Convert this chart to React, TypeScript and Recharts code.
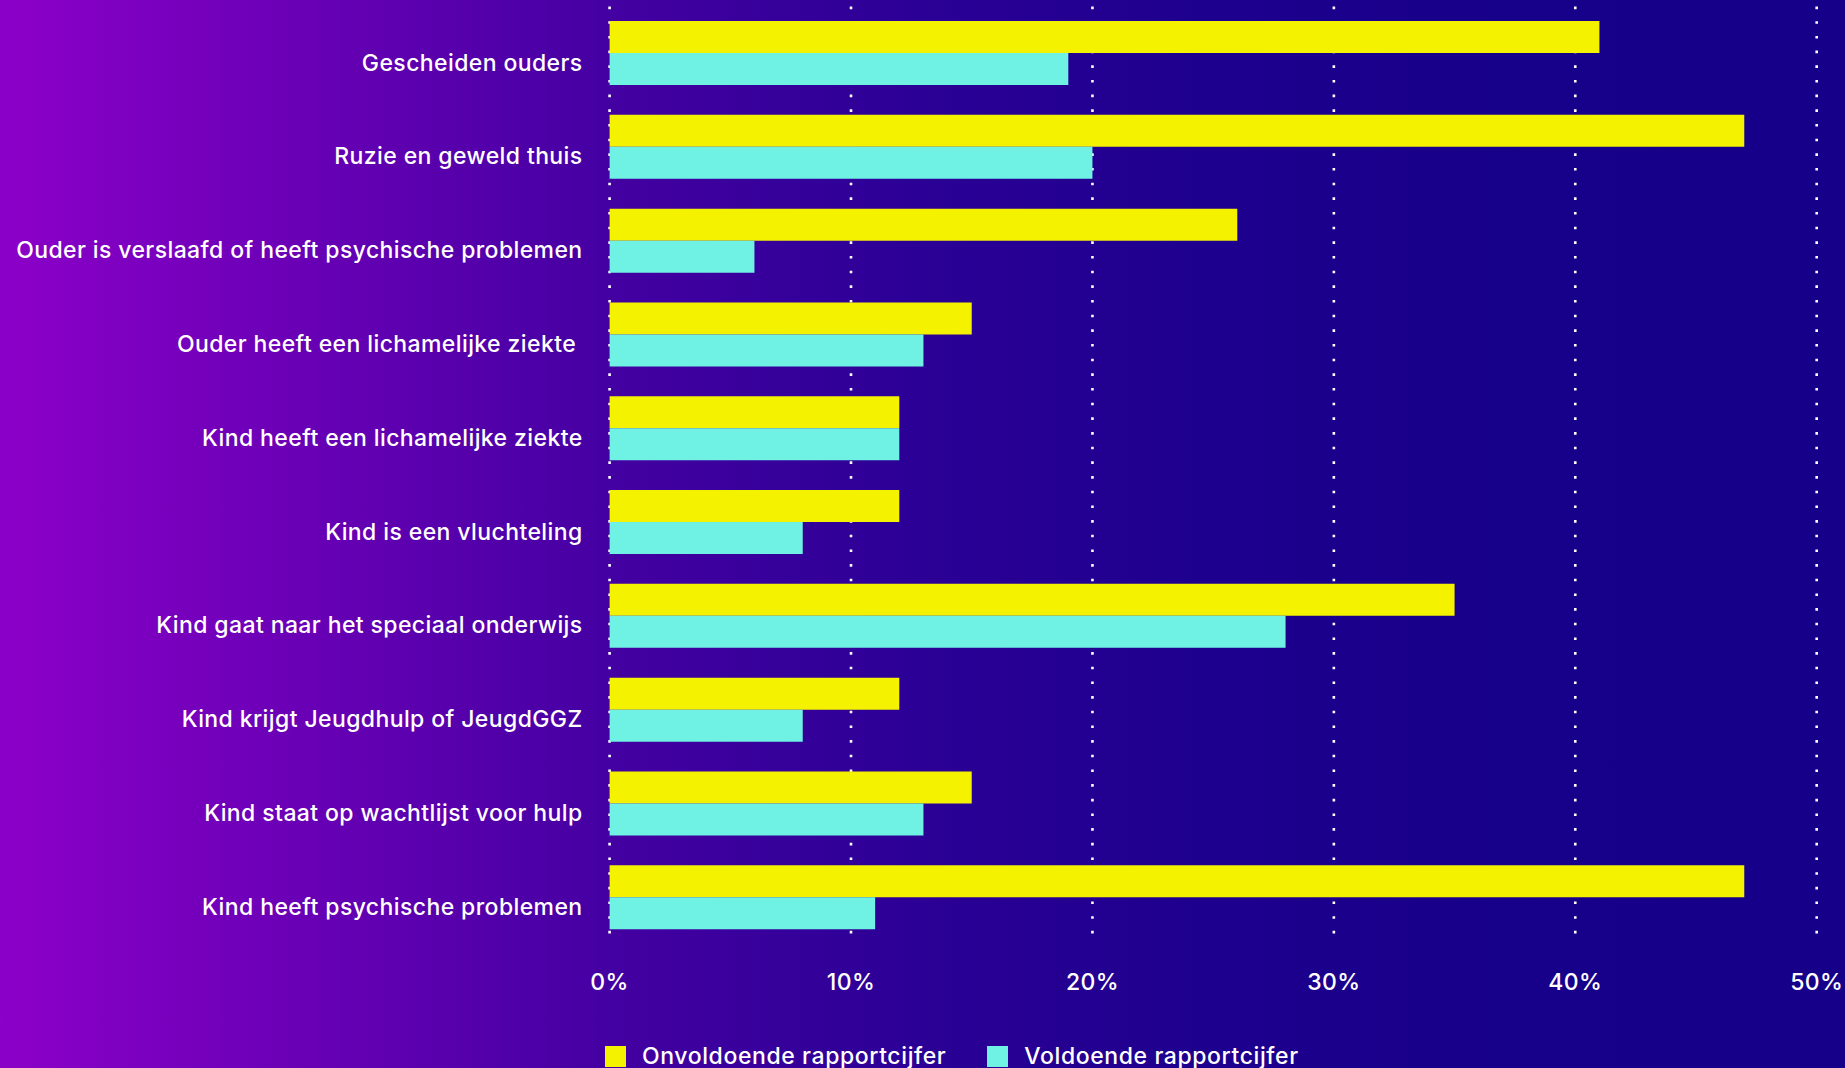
import { BarChart, Bar, XAxis, YAxis, CartesianGrid, Legend } from 'recharts'

const categories = [
  'Gescheiden ouders',
  'Ruzie en geweld thuis',
  'Ouder is verslaafd of heeft psychische problemen',
  'Ouder heeft een lichamelijke ziekte\u00a0',
  'Kind heeft een lichamelijke ziekte',
  'Kind is een vluchteling',
  'Kind gaat naar het speciaal onderwijs',
  'Kind krijgt Jeugdhulp of JeugdGGZ',
  'Kind staat op wachtlijst voor hulp',
  'Kind heeft psychische problemen',
]
const onvoldoende = [41, 47, 26, 15, 12, 12, 35, 12, 15, 47]
const voldoende = [19, 20, 6, 13, 12, 8, 28, 8, 13, 11]
const xTicks = [0, 10, 20, 30, 40, 50]

const data = categories.map((name, i) => ({
  name,
  onvoldoende: onvoldoende[i],
  voldoende: voldoende[i],
}))

const FONT = 'Inter, "Open Sans", sans-serif'
const YELLOW = '#f5f200'
const CYAN = '#6ff2e4'

function CategoryTick(props: any) {
  const { x, y, payload } = props
  return (
    <text
      x={x}
      y={y}
      dy={17}
      textAnchor="end"
      fill="#ffffff"
      fontSize={23}
      fontWeight={500}
      letterSpacing={0.4}
      fontFamily={FONT}
    >
      {payload.value}
    </text>
  )
}

function LegendContent() {
  const items = [
    { label: 'Onvoldoende rapportcijfer', color: YELLOW },
    { label: 'Voldoende rapportcijfer', color: CYAN },
  ]
  return (
    <div style={{ display: 'flex', alignItems: 'center', height: 26, fontFamily: FONT }}>
      {items.map((it, i) => (
        <div key={it.label} style={{ display: 'flex', alignItems: 'center', marginRight: i === 0 ? 41 : 0 }}>
          <span style={{ display: 'inline-block', width: 21, height: 21, background: it.color, marginRight: 16 }} />
          <span style={{ color: '#fff', fontSize: 23, fontWeight: 500, letterSpacing: 0.6, whiteSpace: 'nowrap' }}>{it.label}</span>
        </div>
      ))}
    </div>
  )
}

export default function App() {
  return (
    <div
      style={{
        position: 'absolute',
        left: 0,
        top: 0,
        width: 1845,
        height: 1068,
        background:
          'linear-gradient(90deg, #8c00c8 0%, #6a00b6 16%, #4400a2 33%, #2c0096 49%, #1e008e 65%, #17008a 82%, #16008a 100%)',
      }}
    >
      <BarChart
        width={1845}
        height={1068}
        data={data}
        layout="vertical"
        margin={{ top: 6.6, right: 28.3, left: 0, bottom: 47.4 }}
        barCategoryGap="15.4%"
        barGap={0}
      >
        <CartesianGrid
          horizontal={false}
          stroke="#ffffff"
          strokeWidth={2.6}
          strokeDasharray="2.6 12.07"
        />
        <XAxis
          type="number"
          domain={[0, 50]}
          ticks={xTicks}
          tickFormatter={(v: number) => `${v}%`}
          axisLine={false}
          tickLine={false}
          tickSize={0}
          tickMargin={29}
          height={50}
          tick={{ fill: '#ffffff', fontSize: 23, fontWeight: 500, fontFamily: FONT, letterSpacing: 0.4 }}
          interval={0}
        />
        <YAxis
          type="category"
          dataKey="name"
          width={609.6}
          axisLine={false}
          tickLine={false}
          tickSize={0}
          tickMargin={27}
          tick={<CategoryTick />}
          interval={0}
        />
        <Legend
          content={<LegendContent />}
          wrapperStyle={{ left: 605, top: 1043, width: 760, height: 26 }}
        />
        <Bar dataKey="onvoldoende" name="Onvoldoende rapportcijfer" fill={YELLOW} isAnimationActive={false} />
        <Bar dataKey="voldoende" name="Voldoende rapportcijfer" fill={CYAN} isAnimationActive={false} />
      </BarChart>
    </div>
  )
}
